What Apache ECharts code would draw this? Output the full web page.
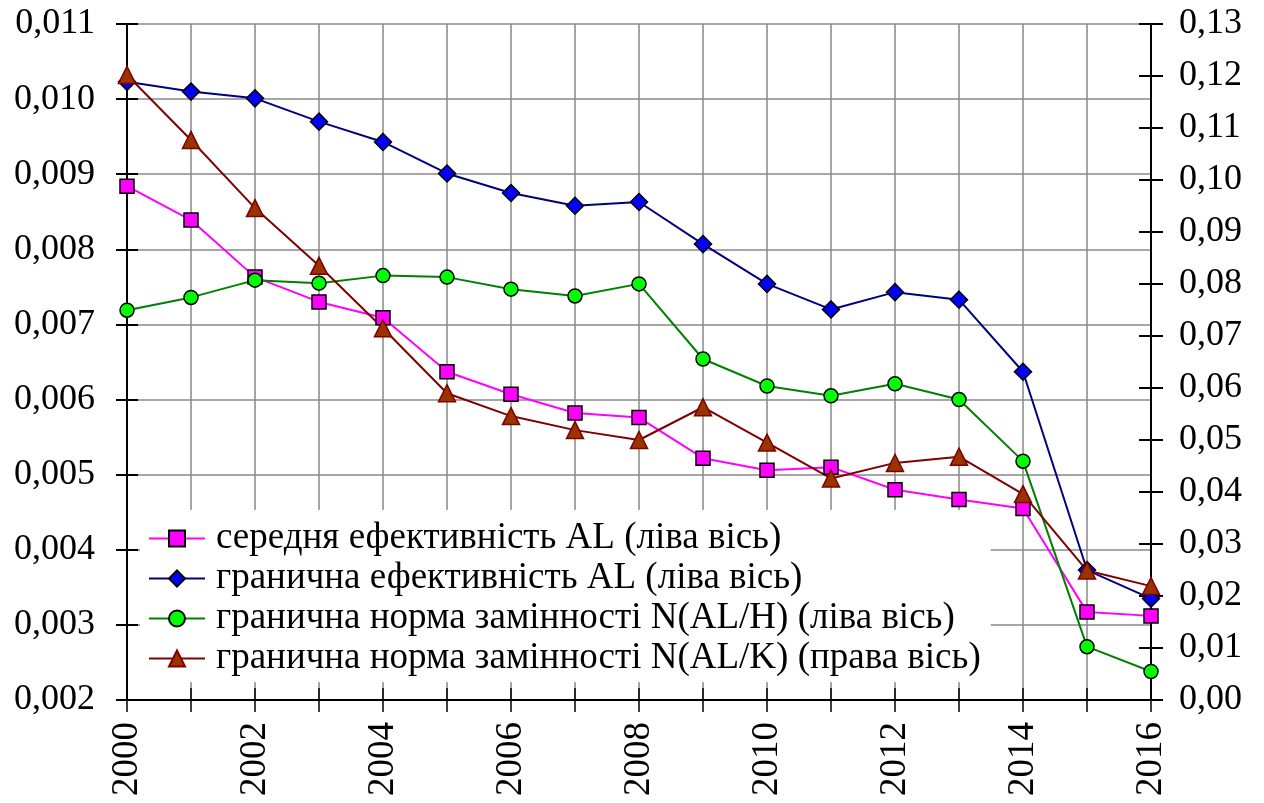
<!DOCTYPE html>
<html>
<head>
<meta charset="utf-8">
<script src="https://cdn.jsdelivr.net/npm/echarts@6/dist/echarts.min.js"></script>
<style>
  html, body { margin: 0; padding: 0; background: #fff; }
  #chart { width: 1264px; height: 803px; }
</style>
</head>
<body>
<div id="chart"></div>
<script>
// роки
const years = ['2000', '2001', '2002', '2003', '2004', '2005', '2006', '2007', '2008',
  '2009', '2010', '2011', '2012', '2013', '2014', '2015', '2016'];
// середня ефективність AL (ліва вісь)
const avgEff = [0.00884, 0.00839, 0.00763, 0.00730, 0.00709, 0.00637, 0.00607, 0.00582, 0.00576,
  0.00522, 0.00506, 0.00510, 0.00480, 0.00467, 0.00455, 0.00317, 0.00312];
// гранична ефективність AL (ліва вісь)
const margEff = [0.01023, 0.01010, 0.01001, 0.00970, 0.00943, 0.00901, 0.00875, 0.00858, 0.00863,
  0.00807, 0.00754, 0.00720, 0.00743, 0.00733, 0.00637, 0.00373, 0.00335];
// гранична норма замінності N(AL/H) (ліва вісь)
const mrsH = [0.00719, 0.00736, 0.00759, 0.00755, 0.00765, 0.00763, 0.00747, 0.00738, 0.00754,
  0.00654, 0.00618, 0.00605, 0.00621, 0.00600, 0.00518, 0.00271, 0.00238];
// гранична норма замінності N(AL/K) (права вісь)
const mrsK = [0.1202, 0.1077, 0.0946, 0.0835, 0.0715, 0.0590, 0.0546, 0.0519, 0.0500,
  0.0563, 0.0495, 0.0426, 0.0456, 0.0468, 0.0396, 0.0249, 0.0219];

const names = [
  'середня ефективність AL (ліва вісь)',
  'гранична ефективність AL (ліва вісь)',
  'гранична норма замінності N(AL/H) (ліва вісь)',
  'гранична норма замінності N(AL/K) (права вісь)'
];

const font = "'Liberation Serif', 'Times New Roman', serif";
const comma = d => v => v.toFixed(d).replace('.', ',');

// ліва вісь, права вісь + копії для внутрішніх рисок
const leftAxis = {
  type: 'value', position: 'left', min: 0.002, max: 0.011, interval: 0.001,
  axisLine: { show: true, lineStyle: { color: '#000', width: 2 } },
  axisTick: { show: true, length: 11, lineStyle: { color: '#000', width: 2 } },
  axisLabel: { margin: 32, color: '#000', fontSize: 36, fontFamily: font, formatter: comma(3) },
  splitLine: { show: true, lineStyle: { color: '#888', width: 1.5 } }
};
const rightAxis = {
  type: 'value', position: 'right', min: 0, max: 0.13, interval: 0.01,
  axisLine: { show: true, lineStyle: { color: '#000', width: 2 } },
  axisTick: { show: true, length: 12, lineStyle: { color: '#000', width: 2 } },
  axisLabel: { margin: 28, color: '#000', fontSize: 36, fontFamily: font, formatter: comma(2) },
  splitLine: { show: false }
};
const innerTicks = (base) => Object.assign({}, base, {
  axisLine: { show: false },
  axisTick: { show: true, inside: true, length: base.axisTick.length, lineStyle: { color: '#000', width: 2 } },
  axisLabel: { show: false },
  splitLine: { show: false }
});

const xMain = {
  type: 'category', data: years, boundaryGap: false, position: 'bottom',
  axisLine: { show: true, lineStyle: { color: '#000', width: 2 } },
  axisTick: { show: true, interval: 0, length: 12, lineStyle: { color: '#000', width: 1.5 } },
  axisLabel: { interval: 1, rotate: 90, margin: 22, color: '#000', fontSize: 37, fontFamily: font },
  splitLine: { show: true, interval: 0, lineStyle: { color: '#888', width: 1.5 } }
};

const mk = (name, data, yIdx, symbol, size, line, fill, border) => ({
  name, type: 'line', data, yAxisIndex: yIdx, xAxisIndex: 0,
  symbol, symbolSize: size, showAllSymbol: true,
  lineStyle: { color: line, width: 2 },
  itemStyle: { color: fill, borderColor: border, borderWidth: 1.5 }
});

const chart = echarts.init(document.getElementById('chart'));
chart.setOption({
  animation: false,
  grid: { left: 127, right: 113, top: 24, bottom: 103, containLabel: false },
  xAxis: [xMain, Object.assign({}, xMain, {
    axisLine: { show: false },
    axisTick: { show: true, inside: true, interval: 0, length: 12, lineStyle: { color: '#000', width: 1.5 } },
    axisLabel: { show: false },
    splitLine: { show: false }
  })],
  yAxis: [leftAxis, rightAxis, innerTicks(leftAxis), innerTicks(rightAxis)],
  legend: {
    orient: 'vertical', left: 140, top: 510,
    padding: [10, 10, 5, 8], itemGap: 3,
    itemWidth: 56, itemHeight: 20,
    backgroundColor: '#fff',
    textStyle: { color: '#000', fontSize: 37, fontFamily: font, lineHeight: 37, padding: [0, 0, 0, 6] },
    data: names
  },
  series: [
    mk(names[0], avgEff, 0, 'rect', 14, '#ff00ff', '#ff00ff', '#000'),
    mk(names[1], margEff, 0, 'diamond', 17, '#000080', '#0000ff', '#000'),
    mk(names[2], mrsH, 0, 'circle', 14, '#008000', '#00ff00', '#000'),
    mk(names[3], mrsK, 1, 'triangle', 17, '#800000', '#993300', '#800000')
  ]
});
</script>
</body>
</html>
